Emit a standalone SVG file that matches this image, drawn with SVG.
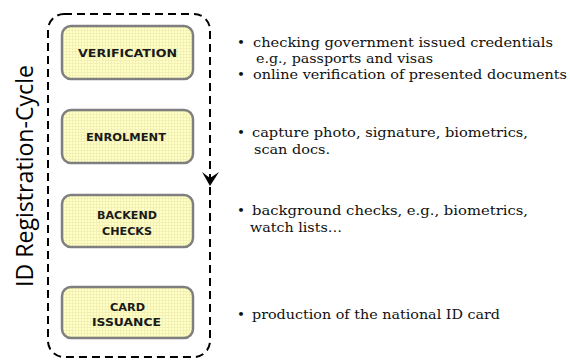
<svg xmlns="http://www.w3.org/2000/svg" width="570" height="362" viewBox="0 0 570 362">
<style>
.box{stroke:#7f7f7f;stroke-width:2.5;fill:url(#grid)}
.lbl{font-family:"DejaVu Sans","Liberation Sans",sans-serif;font-weight:bold;font-size:10.5px;fill:#1a1a1a;text-anchor:middle}
.txt{font-family:"DejaVu Serif","Liberation Serif",serif;font-size:13.5px;fill:#111}
.loop{fill:none;stroke:#000;stroke-width:2;stroke-dasharray:8 5}
</style>
<defs>
<pattern id="grid" width="3" height="3" patternUnits="userSpaceOnUse">
<rect width="3" height="3" fill="#ffffc6"/>
<path d="M0 0.5H3M0.5 0V3" stroke="#f2f0b4" stroke-width="1"/>
</pattern>
</defs>
<rect width="570" height="362" fill="#fff"/>
<g id="connectors">
<rect class="loop" x="48" y="14" width="162" height="343" rx="16" ry="16"/>
<path d="M202,172 L210,186 L219,172 L210,178 Z" fill="#000"/>
</g>
<text transform="translate(33,176) rotate(-90)" text-anchor="middle" font-family="'Open Sans','Liberation Sans',sans-serif" font-size="24" textLength="222" lengthAdjust="spacingAndGlyphs" fill="#000">ID Registration-Cycle</text>
<g id="verification">
<rect class="box" x="62" y="26" width="131" height="53" rx="9"/>
<text class="lbl" x="127.5" y="57" textLength="99" lengthAdjust="spacingAndGlyphs">VERIFICATION</text>
</g>
<g id="enrolment">
<rect class="box" x="62" y="110" width="131" height="53" rx="9"/>
<text class="lbl" x="126" y="141" textLength="80" lengthAdjust="spacingAndGlyphs">ENROLMENT</text>
</g>
<g id="backend">
<rect class="box" x="62" y="195" width="131" height="52" rx="9"/>
<text class="lbl" x="127" y="219" textLength="60" lengthAdjust="spacingAndGlyphs">BACKEND</text>
<text class="lbl" x="127" y="234.5" textLength="50" lengthAdjust="spacingAndGlyphs">CHECKS</text>
</g>
<g id="issuance">
<rect class="box" x="62" y="287" width="131" height="51" rx="9"/>
<text class="lbl" x="127.5" y="311" textLength="35" lengthAdjust="spacingAndGlyphs">CARD</text>
<text class="lbl" x="126.5" y="326" textLength="69" lengthAdjust="spacingAndGlyphs">ISSUANCE</text>
</g>
<g id="notes" class="txt">
<text x="237" y="47">•</text>
<text x="253" y="47" textLength="300" lengthAdjust="spacingAndGlyphs">checking government issued credentials</text>
<text x="256" y="63" textLength="177" lengthAdjust="spacingAndGlyphs">e.g., passports and visas</text>
<text x="237" y="79">•</text>
<text x="253" y="79" textLength="314" lengthAdjust="spacingAndGlyphs">online verification of presented documents</text>
<text x="237" y="137">•</text>
<text x="252" y="137" textLength="276" lengthAdjust="spacingAndGlyphs">capture photo, signature, biometrics,</text>
<text x="254" y="154" textLength="76" lengthAdjust="spacingAndGlyphs">scan docs.</text>
<text x="237" y="215">•</text>
<text x="252" y="215" textLength="276" lengthAdjust="spacingAndGlyphs">background checks, e.g., biometrics,</text>
<text x="250" y="232" textLength="92" lengthAdjust="spacingAndGlyphs">watch lists…</text>
<text x="237" y="319">•</text>
<text x="252" y="319" textLength="248" lengthAdjust="spacingAndGlyphs">production of the national ID card</text>
</g>
</svg>
